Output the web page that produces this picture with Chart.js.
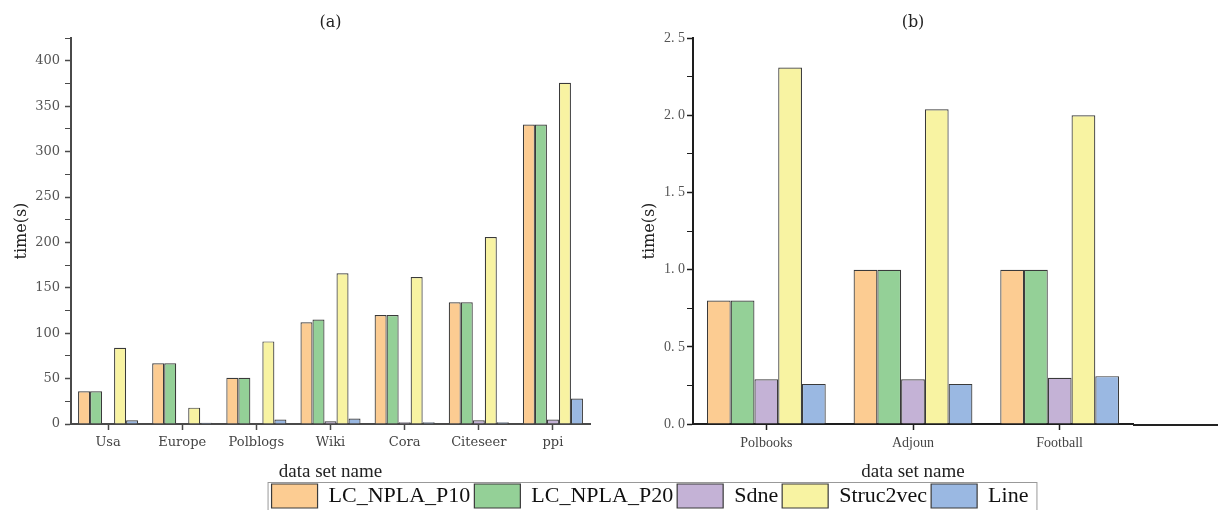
<!DOCTYPE html>
<html>
<head>
<meta charset="utf-8">
<title>Running time comparison</title>
<script src="https://cdn.jsdelivr.net/npm/chart.js@4.4.0/dist/chart.umd.min.js"></script>
<style>
  html, body { margin: 0; padding: 0; background: #fff; }
  #wrap { position: relative; width: 1218px; height: 510px; overflow: hidden; }
  canvas { position: absolute; }
</style>
</head>
<body>
<div id="wrap">
  <canvas id="chartA" style="left:0;top:0" width="600" height="490"></canvas>
  <canvas id="chartB" style="left:600px;top:0" width="618" height="490"></canvas>
  <canvas id="legend" style="left:41px;top:480px" width="1218" height="90"></canvas>
</div>

<script>
    // series shared by both panels
    const seriesNames = ['LC_NPLA_P10', 'LC_NPLA_P20', 'Sdne', 'Struc2vec', 'Line'];
    const seriesColors = ['#fccc92', '#94d097', '#c4b2d6', '#f8f3a2', '#9ab8e2'];

    // panel (a)
    const catsA = ['Usa', 'Europe', 'Polblogs', 'Wiki', 'Cora', 'Citeseer', 'ppi'];
    const p10A = [36, 67, 51, 112, 120, 134, 330];
    const p20A = [36, 67, 51, 115, 120, 134, 330];
    const sdneA = [0, 0, 0, 3, 2, 4, 5];
    const s2vA = [84, 18, 91, 166, 162, 206, 376];
    const lineA = [4, 1.5, 5, 6, 2, 2, 28];

    // panel (b)
    const catsB = ['Polbooks', 'Adjoun', 'Football'];
    const p10B = [0.8, 1.0, 1.0];
    const p20B = [0.8, 1.0, 1.0];
    const sdneB = [0.29, 0.29, 0.30];
    const s2vB = [2.31, 2.04, 2.0];
    const lineB = [0.26, 0.26, 0.31];

    Chart.defaults.font.family = 'Liberation Serif';
    Chart.defaults.animation = false;

    function makeDatasets(values) {
        const datasets = [];
        for (let i = 0; i < values.length; i++) {
            datasets.push({
                label: seriesNames[i],
                data: values[i],
                backgroundColor: seriesColors[i],
                borderColor: '#3a3a3a',
                borderWidth: 1.2,
                barPercentage: 1.0,
                categoryPercentage: 0.81
            });
        }
        return datasets;
    }

    // stretch the x axis line to the right edge like the cropped original
    const axisTail = {
        id: 'axisTail',
        afterDraw(chart) {
            const ctx = chart.ctx;
            const area = chart.chartArea;
            ctx.save();
            ctx.strokeStyle = '#222';
            ctx.lineWidth = 2;
            ctx.beginPath();
            ctx.moveTo(area.right, area.bottom + 1);
            ctx.lineTo(chart.width, area.bottom + 1);
            ctx.stroke();
            ctx.restore();
        }
    };

    function panelOptions(o) {
        return {
            responsive: false,
            layout: { padding: { left: 0, right: o.padRight, top: 0, bottom: 0 } },
            plugins: {
                legend: { display: false },
                tooltip: { enabled: false },
                title: {
                    display: true,
                    text: o.title,
                    fullSize: false,
                    color: '#222',
                    font: { family: 'DejaVu Serif', size: 16, weight: 'normal' },
                    padding: { top: 13, bottom: 6 }
                }
            },
            scales: {
                x: {
                    afterFit: (s) => { s.height = 66; },
                    grid: {
                        display: true, drawOnChartArea: false, offset: false,
                        tickLength: 6, tickColor: o.axisColor, tickWidth: 1.5
                    },
                    border: { display: true, color: o.axisColor, width: 2 },
                    ticks: {
                        color: '#444', padding: 5,
                        font: { family: o.tickFamily, size: o.tickSize }
                    },
                    title: {
                        display: true, text: 'data set name', color: '#222',
                        font: { family: 'Liberation Serif', size: 19 },
                        padding: { top: 0, bottom: 7 }
                    }
                },
                y: {
                    min: 0, max: o.max,
                    afterFit: (s) => { s.width = o.axisWidth; },
                    grid: {
                        display: true, drawOnChartArea: false,
                        tickLength: 6, tickColor: o.axisColor,
                        tickWidth: (c) => (o.isMajor(c.tick.value) ? 1.5 : 1)
                    },
                    border: { display: true, color: o.axisColor, width: 2 },
                    ticks: {
                        stepSize: o.step, autoSkip: false, color: '#555',
                        padding: o.tickPad,
                        font: { family: o.tickFamily, size: o.tickSize },
                        callback: (v) => (o.isMajor(v) ? o.fmt(v) : '')
                    },
                    title: {
                        display: true, text: 'time(s)', color: '#222',
                        font: { family: 'DejaVu Serif', size: 16 },
                        padding: { top: o.titlePad, bottom: 0 }
                    }
                }
            }
        };
    }

    new Chart(document.getElementById('chartA'), {
        type: 'bar',
        data: { labels: catsA, datasets: makeDatasets([p10A, p20A, sdneA, s2vA, lineA]) },
        options: panelOptions({
            title: '(a)', padRight: 10, axisWidth: 71, axisColor: '#4a4a4a',
            max: 425, step: 25, tickPad: 5, titlePad: 12,
            tickFamily: 'DejaVu Serif', tickSize: 13,
            isMajor: (v) => v % 50 === 0,
            fmt: (v) => String(v)
        })
    });

    new Chart(document.getElementById('chartB'), {
        type: 'bar',
        data: { labels: catsB, datasets: makeDatasets([p10B, p20B, sdneB, s2vB, lineB]) },
        options: panelOptions({
            title: '(b)', padRight: 85, axisWidth: 93, axisColor: '#1e1e1e',
            max: 2.5, step: 0.25, tickPad: 2, titlePad: 40,
            tickFamily: 'Liberation Serif', tickSize: 14,
            isMajor: (v) => Math.round(v * 100) % 50 === 0,
            fmt: (v) => v.toFixed(1).replace('.', '. ')
        }),
        plugins: [axisTail]
    });

    // shared legend with a thin frame
    const legendFrame = {
        id: 'legendFrame',
        afterDraw(chart) {
            const boxes = chart.legend.legendHitBoxes;
            if (!boxes || !boxes.length) return;
            const left = boxes[0].left - 4;
            const last = boxes[boxes.length - 1];
            const right = last.left + last.width + 8;
            const top = boxes[0].top - 2;
            const ctx = chart.ctx;
            ctx.save();
            ctx.strokeStyle = '#999';
            ctx.lineWidth = 1;
            ctx.strokeRect(left + 0.5, top + 0.5, right - left, 40);
            ctx.restore();
        }
    };

    new Chart(document.getElementById('legend'), {
        type: 'bar',
        data: { labels: [], datasets: makeDatasets([[], [], [], [], []]) },
        options: {
            responsive: false,
            scales: { x: { display: false }, y: { display: false } },
            plugins: {
                tooltip: { enabled: false },
                legend: {
                    display: true,
                    position: 'top',
                    labels: {
                        color: '#111',
                        boxWidth: 46,
                        boxHeight: 24,
                        padding: 4,
                        font: { family: 'Liberation Serif', size: 22 }
                    }
                }
            }
        },
        plugins: [legendFrame]
    });
</script>
</body>
</html>
